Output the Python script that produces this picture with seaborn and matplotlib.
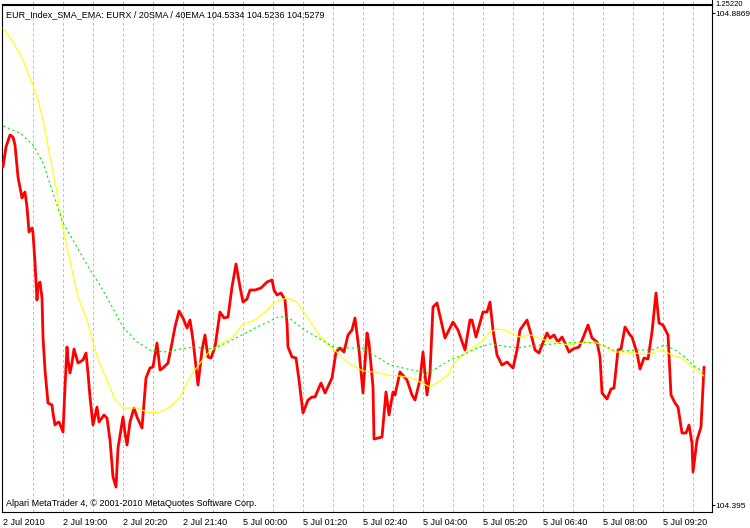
import matplotlib
matplotlib.use("Agg")
import matplotlib.pyplot as plt
import seaborn as sns
import pandas as pd

# ---------------- data ----------------
# bar position (chart units, 60 units = one labelled time step)
red_x = [3, 6, 10, 13, 15, 18, 22, 23, 25, 27, 29, 32, 33, 35, 37, 38, 40, 42, 43, 45,
         48, 52, 53, 55, 57, 59, 63, 65, 67, 68, 70, 72, 74, 78, 83, 86, 88, 90, 93, 97,
         99, 104, 107, 110, 113, 116, 118, 123, 125, 127, 130, 134, 137, 142, 146, 150, 153, 157, 160, 163,
         168, 172, 175, 179, 183, 187, 190, 193, 198, 202, 205, 208, 211, 215, 220, 224, 228, 232, 236, 240,
         243, 247, 250, 255, 261, 267, 272, 274, 277, 281, 285, 287, 288, 292, 296, 299, 303, 308, 312, 315,
         321, 325, 332, 336, 340, 344, 348, 352, 355, 359, 363, 367, 369, 373, 374, 382, 386, 389, 393, 395,
         400, 407, 412, 415, 420, 423, 427, 430, 433, 437, 445, 453, 458, 465, 470, 472, 476, 483, 487, 490,
         493, 497, 502, 507, 513, 517, 520, 527, 532, 535, 539, 542, 547, 550, 554, 558, 562, 565, 569, 573,
         579, 583, 588, 592, 597, 600, 602, 607, 611, 614, 618, 621, 625, 630, 632, 637, 640, 644, 648, 652,
         656, 659, 663, 668, 671, 675, 678, 682, 686, 689, 692, 693, 697, 701, 704]
red_y = [104.733, 104.753, 104.765, 104.763, 104.755, 104.723, 104.702, 104.705, 104.708, 104.693,
         104.668, 104.672, 104.667, 104.637, 104.600, 104.615, 104.618, 104.602, 104.563, 104.530,
         104.497, 104.495, 104.487, 104.475, 104.477, 104.478, 104.468, 104.513, 104.553, 104.540,
         104.527, 104.537, 104.551, 104.537, 104.540, 104.547, 104.527, 104.503, 104.475, 104.493,
         104.478, 104.485, 104.482, 104.460, 104.423, 104.413, 104.452, 104.483, 104.467, 104.455,
         104.478, 104.492, 104.483, 104.472, 104.522, 104.532, 104.533, 104.557, 104.530, 104.532,
         104.537, 104.557, 104.573, 104.589, 104.582, 104.572, 104.580, 104.560, 104.515, 104.550,
         104.565, 104.543, 104.542, 104.553, 104.588, 104.582, 104.583, 104.613, 104.636, 104.613,
         104.598, 104.601, 104.610, 104.610, 104.612, 104.618, 104.620, 104.610, 104.605, 104.607,
         104.600, 104.577, 104.553, 104.543, 104.542, 104.520, 104.487, 104.500, 104.503, 104.503,
         104.517, 104.507, 104.522, 104.548, 104.552, 104.548, 104.565, 104.570, 104.582, 104.550,
         104.507, 104.567, 104.557, 104.513, 104.461, 104.463, 104.508, 104.485, 104.508, 104.505,
         104.528, 104.520, 104.505, 104.500, 104.520, 104.548, 104.505, 104.527, 104.593, 104.597,
         104.562, 104.578, 104.570, 104.550, 104.580, 104.580, 104.563, 104.588, 104.588, 104.598,
         104.570, 104.545, 104.535, 104.538, 104.532, 104.550, 104.570, 104.580, 104.562, 104.550,
         104.547, 104.555, 104.567, 104.562, 104.565, 104.558, 104.563, 104.557, 104.548, 104.551,
         104.553, 104.562, 104.575, 104.562, 104.558, 104.543, 104.507, 104.501, 104.511, 104.512,
         104.550, 104.551, 104.573, 104.565, 104.563, 104.547, 104.531, 104.542, 104.541, 104.568,
         104.607, 104.577, 104.575, 104.565, 104.505, 104.497, 104.493, 104.467, 104.467, 104.475,
         104.457, 104.428, 104.460, 104.473, 104.533]

sma_x = [3, 13, 23, 30, 38, 43, 50, 57, 62, 67, 72, 78, 87, 98, 107, 115, 123, 137, 147, 158,
         170, 180, 190, 200, 208, 222, 233, 242, 255, 265, 275, 287, 297, 307, 318, 328, 338, 348, 363, 375,
         387, 400, 412, 422, 430, 438, 448, 453, 460, 470, 483, 490, 497, 505, 513, 520, 530, 545, 555, 568,
         582, 595, 605, 615, 628, 642, 652, 662, 672, 682, 692, 704]
sma_y = [104.872, 104.858, 104.840, 104.822, 104.800, 104.780, 104.743, 104.707, 104.677, 104.653,
         104.630, 104.603, 104.580, 104.540, 104.520, 104.500, 104.492, 104.492, 104.488, 104.487,
         104.493, 104.503, 104.523, 104.537, 104.547, 104.557, 104.563, 104.575, 104.580, 104.588,
         104.598, 104.602, 104.598, 104.583, 104.567, 104.555, 104.547, 104.537, 104.529, 104.528,
         104.525, 104.524, 104.522, 104.517, 104.513, 104.518, 104.525, 104.535, 104.543, 104.550,
         104.560, 104.568, 104.571, 104.570, 104.566, 104.563, 104.565, 104.560, 104.558, 104.555,
         104.557, 104.558, 104.553, 104.548, 104.548, 104.546, 104.547, 104.550, 104.545, 104.542,
         104.533, 104.524]

ema_x = [3, 20, 33, 43, 53, 63, 77, 90, 98, 110, 123, 137, 150, 167, 180, 193, 213, 228, 242, 255,
         268, 278, 288, 298, 308, 322, 335, 348, 363, 377, 390, 403, 417, 427, 437, 450, 463, 477, 490, 503,
         517, 530, 552, 565, 582, 595, 605, 615, 625, 638, 652, 665, 675, 685, 695, 704]
ema_y = [104.774, 104.767, 104.755, 104.737, 104.707, 104.677, 104.653, 104.630, 104.618, 104.597,
         104.573, 104.558, 104.550, 104.548, 104.551, 104.553, 104.551, 104.558, 104.565, 104.572,
         104.578, 104.583, 104.583, 104.575, 104.568, 104.560, 104.552, 104.552, 104.552, 104.543,
         104.535, 104.532, 104.529, 104.527, 104.532, 104.540, 104.545, 104.552, 104.556, 104.554,
         104.552, 104.554, 104.556, 104.557, 104.558, 104.557, 104.554, 104.549, 104.549, 104.550,
         104.550, 104.555, 104.550, 104.543, 104.533, 104.528]

tick_pos = [3, 63, 123, 183, 243, 303, 363, 423, 483, 543, 603, 663]
tick_labels = ["2 Jul 2010", "2 Jul 19:00", "2 Jul 20:20", "2 Jul 21:40", "5 Jul 00:00",
               "5 Jul 01:20", "5 Jul 02:40", "5 Jul 04:00", "5 Jul 05:20", "5 Jul 06:40",
               "5 Jul 08:00", "5 Jul 09:20"]
price_ticks = [104.8869, 104.395]
price_labels = ["104.8869", "104.395"]
title = "EUR_Index_SMA_EMA: EURX / 20SMA / 40EMA 104.5334 104.5236 104.5279"
footer = "Alpari MetaTrader 4, \u00a9 2001-2010 MetaQuotes Software Corp."

# ---------------- figure ----------------
sns.set_style("white")
plt.rcParams["font.family"] = ["Liberation Sans", "DejaVu Sans"]
FS = 6.5
W, H = 750, 528
fig = plt.figure(figsize=(W / 100, H / 100), dpi=100)
fig.patch.set_facecolor("white")

ax = fig.add_axes([2 / W, (H - 512) / H, (712 - 2) / W, (512 - 5) / H])
ax.set_facecolor("white")

grid_color = "#c8bcb0"
grid_pos = list(range(33, 700, 30))

red = pd.DataFrame({"x": red_x, "y": red_y})
sma = pd.DataFrame({"x": sma_x, "y": sma_y})
ema = pd.DataFrame({"x": ema_x, "y": ema_y})

sns.lineplot(data=red, x="x", y="y", ax=ax, color="#ff0000", lw=2.0, sort=False, estimator=None, zorder=3)
sns.lineplot(data=sma, x="x", y="y", ax=ax, color="#ffff00", lw=0.8, sort=False, estimator=None, zorder=4)
sns.lineplot(data=ema, x="x", y="y", ax=ax, color="#00ee00", lw=0.8, sort=False, estimator=None,
             linestyle=(0, (2, 2.5)), zorder=5)

ax.set_xlim(2, 712)
ax.set_ylim(104.388, 104.895)
ax.set_xlabel("")
ax.set_ylabel("")

ax.set_xticks(tick_pos)
ax.set_xticklabels(tick_labels, ha="left", fontsize=FS)
ax.set_xticks(grid_pos, minor=True)
ax.xaxis.remove_overlapping_locs = False
ax.tick_params(axis="x", which="major", direction="out", length=3, width=0.8, pad=1.5, colors="black")
ax.tick_params(axis="x", which="minor", length=0)
ax.grid(False)
ax.grid(True, which="minor", axis="x", color=grid_color, lw=0.7, linestyle=(0, (3, 2.5)), zorder=0)

ax.yaxis.tick_right()
ax.set_yticks(price_ticks)
ax.set_yticklabels(price_labels, fontsize=6.0)
ax.tick_params(axis="y", direction="out", length=2, width=0.8, pad=0.5, colors="black")

for s in ax.spines.values():
    s.set_visible(True)
    s.set_color("black")
    s.set_linewidth(0.8)

# tiny window strip above the main chart
ax2 = fig.add_axes([2 / W, (H - 4) / H, (712 - 2) / W, 4 / H])
ax2.set_xlim(2, 712)
ax2.set_xticks(grid_pos)
ax2.xaxis.remove_overlapping_locs = False
ax2.tick_params(axis="both", length=0, labelbottom=False, labelleft=False)
ax2.set_yticks([])
ax2.grid(True, axis="x", color=grid_color, lw=0.7, linestyle=(0, (3, 2.5)))
for k, s in ax2.spines.items():
    s.set_visible(k in ("bottom", "right"))
    s.set_color("black")
    s.set_linewidth(0.8)

fig.text(6 / W, 1 - 14.5 / H, title, fontsize=FS, va="center", ha="left", color="black")
fig.text(6 / W, 1 - 504 / H, footer, fontsize=FS, va="center", ha="left", color="black")
fig.text(715 / W, 1 - 0.5 / H, "1.25220", fontsize=5.5, va="top", ha="left", color="black")

fig.savefig("out.png", dpi=100, facecolor="white")
